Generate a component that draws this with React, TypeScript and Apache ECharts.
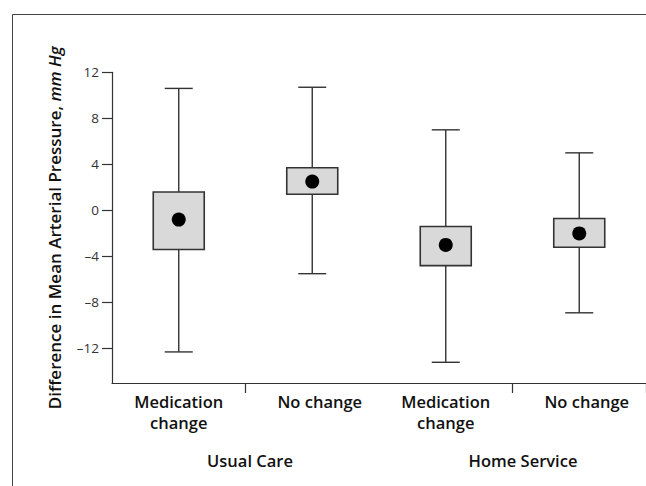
import React, { useEffect, useRef } from "react";
import * as echarts from "echarts";

const categories = ["Medication\nchange", "No change", "Medication\nchange", "No change"];
const groups = ["Usual Care", "Home Service"];
const whiskerLow = [-12.3, -5.5, -13.2, -8.9];
const boxLow = [-3.4, 1.4, -4.8, -3.2];
const means = [-0.8, 2.5, -3.0, -2.0];
const boxHigh = [1.6, 3.7, -1.4, -0.7];
const whiskerHigh = [10.6, 10.7, 7.0, 5.0];
const yTicks = [-12, -8, -4, 0, 4, 8, 12];

const FONT = "'Open Sans', 'DejaVu Sans', sans-serif";
const INK = "#333";

export default function App() {
  const ref = useRef<HTMLDivElement>(null);
  useEffect(() => {
    if (!ref.current) return;
    const chart = echarts.init(ref.current, null, { renderer: "svg" });
    const data = categories.map((_, i) => [i, whiskerLow[i], boxLow[i], means[i], boxHigh[i], whiskerHigh[i]]);
    const labelStyle = { fontFamily: FONT, fontSize: 16.5, fontWeight: 600, color: "#111", lineHeight: 21 };
    chart.setOption({
      animation: false,
      textStyle: { fontFamily: FONT },
      graphic: [
        {
          type: "rect",
          shape: { x: 12.5, y: 14.5, width: 800, height: 600 },
          style: { fill: "none", stroke: "#444", lineWidth: 1 },
          silent: true,
          z: -1,
        },
      ],
      grid: { left: 112, top: 72.3, bottom: 103, right: -6, containLabel: false },
      xAxis: [
        {
          type: "category",
          data: categories,
          boundaryGap: true,
          axisLine: { show: true, onZero: false, lineStyle: { color: INK, width: 1.2 } },
          axisTick: {
            show: true,
            length: 10,
            interval: (i: number) => i === 1 || i === 3,
            lineStyle: { color: INK, width: 1.2 },
          },
          axisLabel: {
            interval: 0,
            margin: 8,
            formatter: (v: string) => (v === "No change" ? "{n|" + v + "}" : "{m|" + v + "}"),
            rich: {
              m: { ...labelStyle },
              n: { ...labelStyle, padding: [0, 0, 0, 15] },
            },
          },
          splitLine: { show: false },
        },
        {
          type: "category",
          data: groups,
          position: "bottom",
          gridIndex: 0,
          axisLine: { show: false, onZero: false },
          axisTick: { show: false },
          axisLabel: {
            interval: 0,
            margin: 67,
            formatter: (v: string) => (v === groups[0] ? "{a|" + v + "}" : "{b|" + v + "}"),
            rich: {
              a: { ...labelStyle, padding: [0, 0, 0, 9] },
              b: { ...labelStyle, padding: [0, 0, 0, 21] },
            },
          },
          splitLine: { show: false },
        },
      ],
      yAxis: {
        type: "value",
        min: -15,
        max: 12,
        name: "{b|Difference in Mean Arterial Pressure, }{i|mm Hg}",
        nameLocation: "middle",
        nameRotate: 90,
        nameGap: 49,
        nameTextStyle: {
          rich: {
            b: { fontFamily: FONT, fontSize: 17, fontWeight: 600, color: "#111" },
            i: { fontFamily: FONT, fontSize: 17, fontWeight: 600, fontStyle: "italic", color: "#111" },
          },
        },
        axisLine: { show: true, lineStyle: { color: INK, width: 1.2 } },
        axisTick: { show: true, length: 10, customValues: yTicks, lineStyle: { color: INK, width: 1.2 } },
        axisLabel: {
          customValues: yTicks,
          margin: 13,
          fontSize: 13.5,
          color: "#333",
          fontFamily: FONT,
          formatter: (v: number) => (v < 0 ? "\u2013" + Math.abs(v) : String(v)),
        },
        splitLine: { show: false },
      },
      series: [
        {
          type: "custom",
          xAxisIndex: 0,
          yAxisIndex: 0,
          data,
          renderItem: (params: any, api: any) => {
            const x = api.value(0);
            const pLo = api.coord([x, api.value(1)]);
            const pQ1 = api.coord([x, api.value(2)]);
            const pM = api.coord([x, api.value(3)]);
            const pQ3 = api.coord([x, api.value(4)]);
            const pHi = api.coord([x, api.value(5)]);
            const cx = pLo[0];
            const boxW = 51;
            const capW = 28;
            const lineStyle = { stroke: INK, lineWidth: 1.4 };
            return {
              type: "group",
              children: [
                { type: "line", shape: { x1: cx, y1: pLo[1], x2: cx, y2: pHi[1] }, style: lineStyle },
                { type: "line", shape: { x1: cx - capW / 2, y1: pLo[1], x2: cx + capW / 2, y2: pLo[1] }, style: lineStyle },
                { type: "line", shape: { x1: cx - capW / 2, y1: pHi[1], x2: cx + capW / 2, y2: pHi[1] }, style: lineStyle },
                {
                  type: "rect",
                  shape: { x: cx - boxW / 2, y: pQ3[1], width: boxW, height: pQ1[1] - pQ3[1] },
                  style: { fill: "#d9d9d9", stroke: INK, lineWidth: 1.6 },
                },
                { type: "circle", shape: { cx, cy: pM[1], r: 7 }, style: { fill: "#000" } },
              ],
            };
          },
        },
      ],
    });
    return () => chart.dispose();
  }, []);
  return <div ref={ref} style={{ position: "fixed", left: 0, top: 0, width: 646, height: 486, background: "#fff" }} />;
}
